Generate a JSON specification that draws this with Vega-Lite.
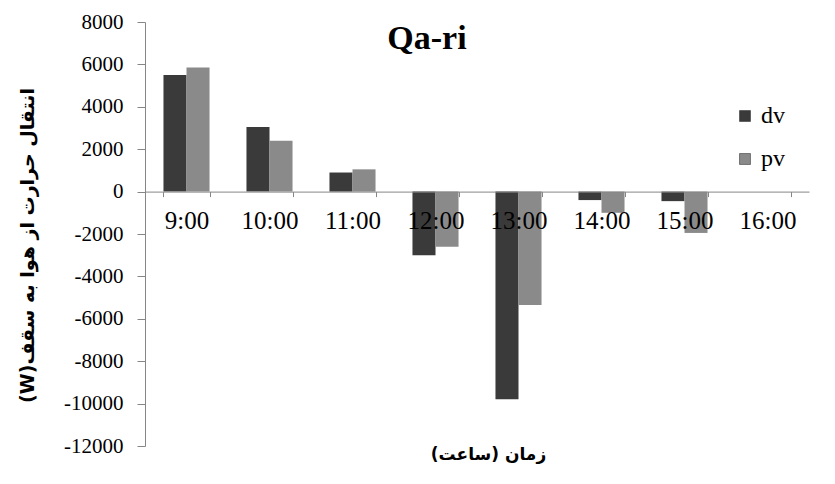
{
  "$schema": "https://vega.github.io/schema/vega-lite/v6.json",
  "width": 664,
  "height": 424,
  "autosize": "none",
  "padding": {"left": 145, "top": 22, "right": 26, "bottom": 38},
  "background": "white",
  "config": {"view": {"stroke": null}, "font": "Liberation Serif"},
  "title": {
    "text": "Qa-ri",
    "font": "Liberation Serif",
    "fontSize": 34,
    "fontWeight": "bold",
    "color": "black",
    "anchor": "middle",
    "frame": "group",
    "baseline": "alphabetic",
    "offset": 0,
    "dx": -50,
    "dy": 72
  },
  "data": {
    "values": [
      {"time": "9:00", "series": "dv", "value": 5500},
      {"time": "9:00", "series": "pv", "value": 5850},
      {"time": "10:00", "series": "dv", "value": 3050},
      {"time": "10:00", "series": "pv", "value": 2400},
      {"time": "11:00", "series": "dv", "value": 900},
      {"time": "11:00", "series": "pv", "value": 1050},
      {"time": "12:00", "series": "dv", "value": -3000},
      {"time": "12:00", "series": "pv", "value": -2600},
      {"time": "13:00", "series": "dv", "value": -9800},
      {"time": "13:00", "series": "pv", "value": -5350},
      {"time": "14:00", "series": "dv", "value": -400},
      {"time": "14:00", "series": "pv", "value": -1000},
      {"time": "15:00", "series": "dv", "value": -450},
      {"time": "15:00", "series": "pv", "value": -1950},
      {"time": "16:00", "series": "dv", "value": 0},
      {"time": "16:00", "series": "pv", "value": 0}
    ]
  },
  "layer": [
    {
      "mark": {"type": "bar"},
      "encoding": {
        "x": {
          "field": "time",
          "type": "nominal",
          "sort": null,
          "scale": {"paddingInner": 0.445, "paddingOuter": 0.2225},
          "axis": {
            "orient": "bottom",
            "offset": -254.4,
            "title": null,
            "tickBand": "extent",
            "labelAngle": 0,
            "labelFont": "Liberation Serif",
            "labelFontSize": 25,
            "labelColor": "black",
            "labelPadding": 12,
            "domainColor": "#868686",
            "tickColor": "#868686",
            "tickSize": 5,
            "zindex": 1
          }
        },
        "xOffset": {"field": "series", "type": "nominal", "sort": ["dv", "pv"]},
        "y": {
          "field": "value",
          "type": "quantitative",
          "scale": {"domain": [-12000, 8000], "nice": false},
          "axis": {
            "values": [-12000, -10000, -8000, -6000, -4000, -2000, 0, 2000, 4000, 6000, 8000],
            "labelExpr": "toString(datum.value)",
            "grid": false,
            "labelFont": "Liberation Serif",
            "labelFontSize": 21,
            "labelColor": "black",
            "labelPadding": 14,
            "domainColor": "#868686",
            "tickColor": "#868686",
            "tickSize": 8,
            "title": "‫انتقال حرارت از هوا به سقف(W)‬",
            "titleFont": "DejaVu Sans",
            "titleFontSize": 19,
            "titleFontWeight": "bold",
            "titleColor": "black",
            "titlePadding": 26,
            "titleY": 223
          }
        },
        "color": {
          "field": "series",
          "type": "nominal",
          "scale": {"domain": ["dv", "pv"], "range": ["#3a3a3a", "#8a8a8a"]},
          "legend": {
            "orient": "none",
            "legendX": 588,
            "legendY": 82,
            "title": null,
            "symbolType": "square",
            "symbolSize": 120,
            "symbolStrokeColor": "#222222",
            "symbolStrokeWidth": 0.5,
            "labelFont": "Liberation Serif",
            "labelFontSize": 24,
            "labelColor": "black",
            "labelOffset": 4,
            "rowPadding": 19
          }
        }
      }
    },
    {
      "mark": {"type": "point", "opacity": 0},
      "encoding": {
        "x": {
          "field": "time",
          "type": "nominal",
          "sort": null,
          "axis": {
            "orient": "bottom",
            "title": "‏زمان (ساعت)‏",
            "titleFont": "DejaVu Sans",
            "titleFontSize": 17,
            "titleFontWeight": "bold",
            "titleColor": "black",
            "titlePadding": 0,
            "titleX": 343,
            "labels": false,
            "ticks": false,
            "domain": false
          }
        },
        "y": {"field": "value", "type": "quantitative"}
      }
    }
  ],
  "resolve": {"axis": {"x": "independent"}}
}
